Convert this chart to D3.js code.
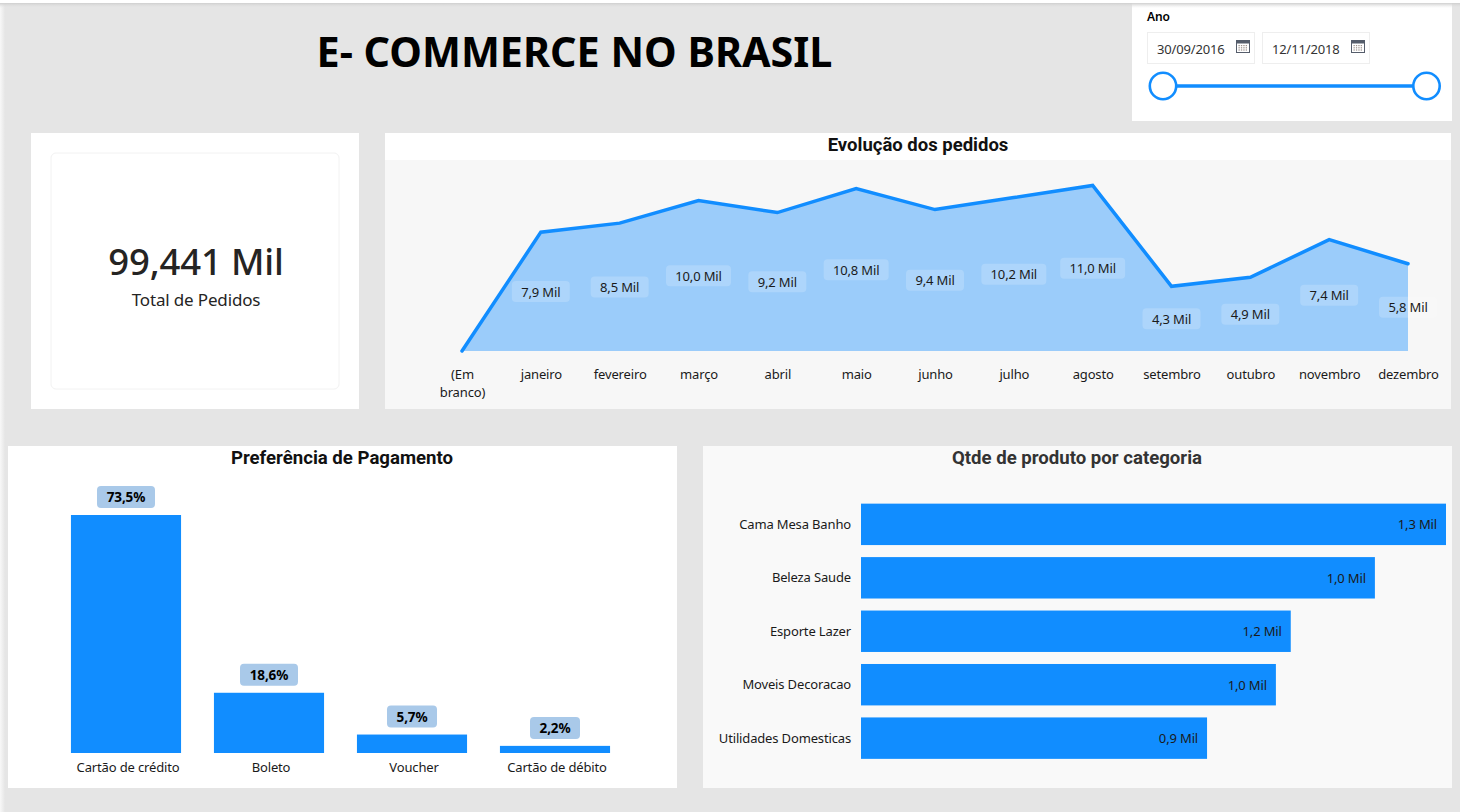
<!DOCTYPE html>
<html lang="pt-BR">
<head>
<meta charset="utf-8">
<title>E- COMMERCE NO BRASIL</title>
<script src="https://cdn.jsdelivr.net/npm/d3@7/dist/d3.min.js"></script>
<style>
html,body{margin:0;padding:0;background:#e5e5e5;overflow:hidden}
svg{display:block}
text{font-family:"Noto Sans",sans-serif}
.din{font-family:Roboto,sans-serif;font-weight:700}
.tight,.tick text{letter-spacing:-.15px}
</style>
</head>
<body>
<svg id="c" width="1460" height="812"></svg>
<script>
const months = ["(Em branco)","janeiro","fevereiro","março","abril","maio","junho","julho","agosto","setembro","outubro","novembro","dezembro"];
const orders = [0,7.9,8.5,10.0,9.2,10.8,9.4,10.2,11.0,4.3,4.9,7.4,5.8];
const payments = ["Cartão de crédito","Boleto","Voucher","Cartão de débito"];
const paymentShare = [73.5,18.6,5.7,2.2];
const categories = ["Cama Mesa Banho","Beleza Saude","Esporte Lazer","Moveis Decoracao","Utilidades Domesticas"];
const categoryQty = [1.30,1.142,0.955,0.922,0.769];
const categoryLabels = ["1,3 Mil","1,0 Mil","1,2 Mil","1,0 Mil","0,9 Mil"];
const dateRange = ["30/09/2016","12/11/2018"];
const totalLabel = "99,441 Mil";
const totalCaption = "Total de Pedidos";

const BLUE = "#118dff";
const svg = d3.select("#c");
const comma = v => d3.format(".1f")(v).replace(".", ",");

function panel(x,y,w,h,fill){
  return svg.append("rect").attr("x",x).attr("y",y).attr("width",w).attr("height",h).attr("fill",fill);
}
function label(g,x,y,txt,o={}){
  return g.append("text").attr("class","tight").attr("x",x).attr("y",y).attr("text-anchor",o.anchor||"middle")
    .attr("dominant-baseline","central").attr("font-size",o.size||13)
    .attr("font-weight",o.weight||400).attr("fill",o.fill||"#1a1a1a").text(txt);
}
function pill(g,cx,cy,w,h,fill,op){
  return g.append("rect").attr("x",cx-w/2).attr("y",cy-h/2).attr("width",w).attr("height",h)
    .attr("rx",4).attr("fill",fill).attr("fill-opacity",op);
}

// chrome
const defs = svg.append("defs");
const lg = defs.append("linearGradient").attr("id","edge");
lg.append("stop").attr("offset",0).attr("stop-color","#f8f8f8");
lg.append("stop").attr("offset",1).attr("stop-color","#e5e5e5");
panel(0,0,5,812,"url(#edge)");

// title
svg.append("text").attr("x",574.5).attr("y",51).attr("text-anchor","middle").attr("dominant-baseline","central")
  .attr("font-size",41.3).attr("font-weight",700).attr("fill","#000").text("E- COMMERCE NO BRASIL");

// date slicer
panel(1132,3,320,118,"#ffffff");
const tg = defs.append("linearGradient").attr("id","top").attr("x2",0).attr("y2",1);
tg.append("stop").attr("offset",0).attr("stop-color","#cfcfcf");
tg.append("stop").attr("offset",1).attr("stop-color","#e5e5e5").attr("stop-opacity",0);
panel(0,3,1460,5,"url(#top)");
panel(0,0,1460,3,"#ffffff");
const slicer = svg.append("g");
label(slicer,1147,16.5,"Ano",{anchor:"start",size:12,weight:600,fill:"#000"});
[[1147,108,0],[1262,108,1]].forEach(([x,w,i])=>{
  slicer.append("rect").attr("x",x+.5).attr("y",32.5).attr("width",w-1).attr("height",31).attr("fill","#fff").attr("stroke","#eeeeee");
  label(slicer,x+10,48.5,dateRange[i],{anchor:"start",size:13,fill:"#333"});
  const ic = slicer.append("g").attr("transform",`translate(${x+89},40)`);
  ic.append("rect").attr("x",.5).attr("y",.5).attr("width",13).attr("height",12).attr("fill","#fff").attr("stroke","#555d6b");
  ic.append("rect").attr("x",1).attr("y",1).attr("width",12).attr("height",2.5).attr("fill","#555d6b");
  d3.range(3).forEach(r=>d3.range(4).forEach(k=>ic.append("rect").attr("x",2.5+k*2.4).attr("y",5+r*2.2).attr("width",1.3).attr("height",1.2).attr("fill","#9a8f8a")));
});
const parseDate = d3.timeParse("%d/%m/%Y");
const sx = d3.scaleTime().domain(dateRange.map(parseDate)).range([1163,1426.5]);
slicer.append("line").attr("x1",sx.range()[0]).attr("x2",sx.range()[1]).attr("y1",86).attr("y2",86).attr("stroke",BLUE).attr("stroke-width",3.5);
dateRange.forEach(d=>slicer.append("circle").attr("cx",sx(parseDate(d))).attr("cy",86).attr("r",13.2).attr("fill","#fff").attr("stroke",BLUE).attr("stroke-width",2.6));

// KPI card
panel(31,133,328,276,"#ffffff");
svg.append("rect").attr("x",51).attr("y",153).attr("width",288).attr("height",236).attr("rx",5).attr("fill","#fff").attr("stroke","#f2f2f2");
label(svg,196,260.5,totalLabel,{size:36.5,weight:500,fill:"#252423"});
label(svg,196,299.5,totalCaption,{size:17,fill:"#252423"});

// line / area chart
panel(385,133,1066,27,"#ffffff");
panel(385,160,1066,249,"#f7f7f7");
svg.append("text").attr("class","din").attr("x",918).attr("y",144.5).attr("text-anchor","middle").attr("dominant-baseline","central")
  .attr("font-size",18.5).attr("fill","#111").text("Evolução dos pedidos");
const lx = d3.scalePoint().domain(months).range([462,1408]);
const ly = d3.scaleLinear().domain([0,11]).range([351,185.5]);
const series = months.map((m,i)=>({m,v:orders[i]}));
const lineG = svg.append("g");
lineG.append("path").datum(series).attr("fill",BLUE).attr("fill-opacity",.4)
  .attr("d",d3.area().x(d=>lx(d.m)).y0(ly(0)).y1(d=>ly(d.v)));
lineG.append("path").datum(series).attr("fill","none").attr("stroke",BLUE).attr("stroke-width",3.5).attr("stroke-linejoin","miter")
  .attr("stroke-linecap","round").attr("d",d3.line().x(d=>lx(d.m)).y(d=>ly(d.v)));
series.filter(d=>d.v>0).forEach(d=>{
  const cy = ly(d.v/2);
  pill(lineG,lx(d.m),cy,d.v>=10?65:58,21,"#ffffff",.18);
  label(lineG,lx(d.m),cy,comma(d.v)+" Mil",{size:13,fill:"#1a1a1a"});
});
const lAxis = svg.append("g").attr("transform","translate(0,351)")
  .call(d3.axisBottom(lx).tickSize(0).tickPadding(0));
lAxis.select(".domain").remove();
lAxis.selectAll("text").attr("font-size",13).attr("fill","#1a1a1a").style("font-family",'"Noto Sans",sans-serif')
  .each(function(d){
    const t = d3.select(this).text(null).attr("y",0).attr("dy",null);
    const parts = d==="(Em branco)" ? ["(Em","branco)"] : [d];
    parts.forEach((p,i)=>t.append("tspan").attr("x",0).attr("y",28+i*18).text(p));
  });

// payment bars
panel(8,446,669,342,"#ffffff");
svg.append("text").attr("class","din").attr("x",342).attr("y",457.5).attr("text-anchor","middle").attr("dominant-baseline","central")
  .attr("font-size",18.6).attr("fill","#111").text("Preferência de Pagamento");
const px = d3.scaleBand().domain(payments).range([54.5,626.5]).paddingInner(.23).paddingOuter(.115);
const py = d3.scaleLinear().domain([0,73.5]).range([753,515]);
const payG = svg.append("g");
payments.forEach((p,i)=>{
  const v = paymentShare[i], cx = px(p)+px.bandwidth()/2;
  payG.append("rect").attr("x",px(p)).attr("y",py(v)).attr("width",px.bandwidth()).attr("height",py(0)-py(v)).attr("fill",BLUE);
  pill(payG,cx,py(v)-18,v>=10?58:50,22,"#a9c9e9",1);
  label(payG,cx,py(v)-18,comma(v)+"%",{size:13.5,weight:700,fill:"#000"});
});
const pAxis = svg.append("g").attr("transform","translate(2,753)")
  .call(d3.axisBottom(px).tickSize(0).tickPadding(10));
pAxis.select(".domain").remove();
pAxis.selectAll("text").attr("font-size",13).attr("fill","#1a1a1a").style("font-family",'"Noto Sans",sans-serif');

// category bars
panel(703,446,749,342,"#f9f9f9");
svg.append("text").attr("class","din").attr("x",1077).attr("y",457.5).attr("text-anchor","middle").attr("dominant-baseline","central")
  .attr("font-size",18.6).attr("fill","#333").text("Qtde de produto por categoria");
const cy = d3.scaleBand().domain(categories).range([497.5,765]).paddingInner(.225).paddingOuter(.115);
const cx = d3.scaleLinear().domain([0,1.30]).range([861,1446]);
const catG = svg.append("g");
categories.forEach((c,i)=>{
  catG.append("rect").attr("x",cx(0)).attr("y",cy(c)).attr("width",cx(categoryQty[i])-cx(0)).attr("height",cy.bandwidth()).attr("fill",BLUE);
  label(catG,cx(categoryQty[i])-9,cy(c)+cy.bandwidth()/2,categoryLabels[i],{anchor:"end",size:13,fill:"#1a1a1a"});
});
const cAxis = svg.append("g").attr("transform","translate(861,0.5)")
  .call(d3.axisLeft(cy).tickSize(0).tickPadding(10));
cAxis.select(".domain").remove();
cAxis.selectAll("text").attr("font-size",13).attr("fill","#1a1a1a").style("font-family",'"Noto Sans",sans-serif');
</script>
</body>
</html>
